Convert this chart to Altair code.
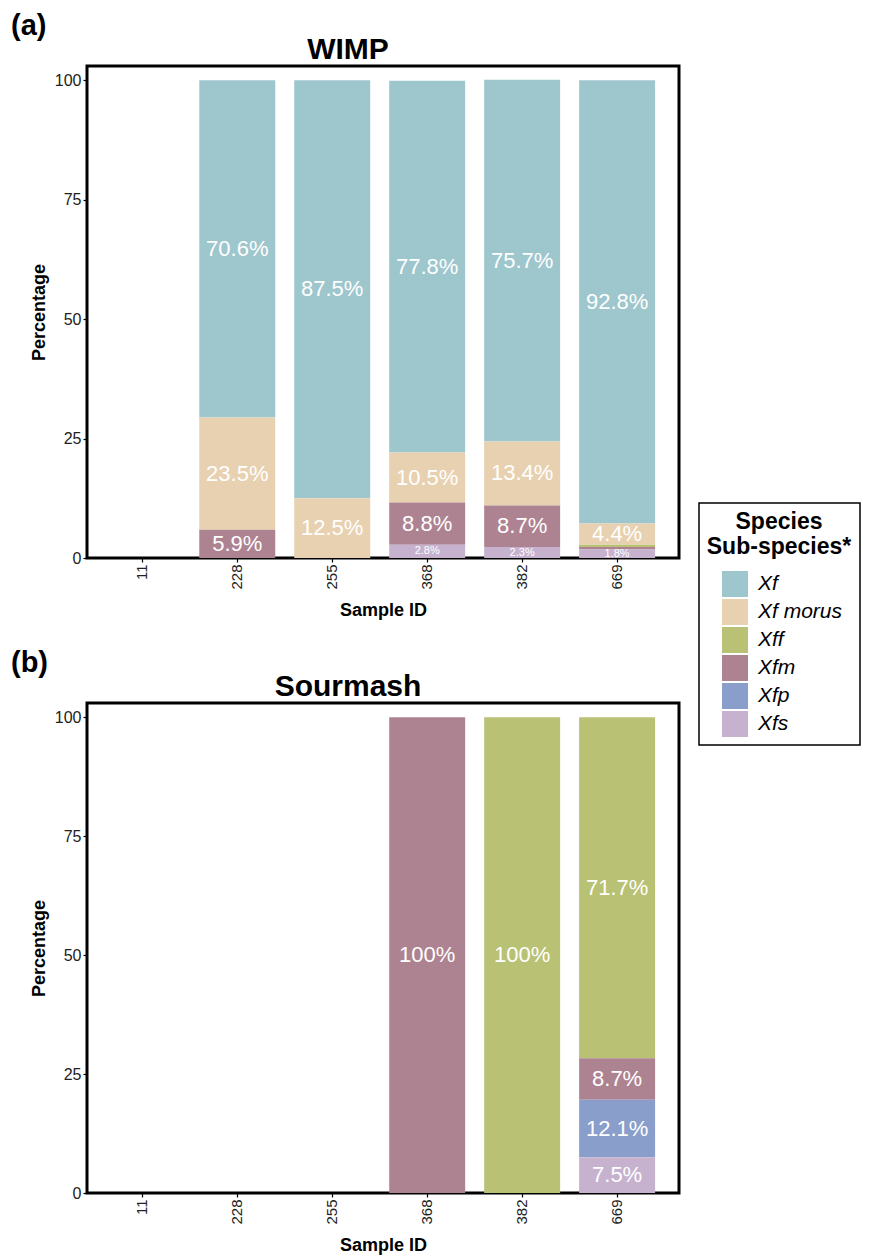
import altair as alt
import pandas as pd

samples = ["11", "228", "255", "368", "382", "669"]
species = ["Xf", "Xf morus", "Xff", "Xfm", "Xfp", "Xfs"]
colors = ["#9EC6CD", "#E8D1B0", "#B9C175", "#AE8391", "#8A9ECB", "#C6B2CF"]

# WIMP percentages per species (by sample)
wimp_xf = [0, 70.6, 87.5, 77.8, 75.7, 92.8]
wimp_xf_morus = [0, 23.5, 12.5, 10.5, 13.4, 4.4]
wimp_xff = [0, 0, 0, 0, 0, 0.5]
wimp_xfm = [0, 5.9, 0, 8.8, 8.7, 0.5]
wimp_xfp = [0, 0, 0, 0, 0, 0]
wimp_xfs = [0, 0, 0, 2.8, 2.3, 1.8]

# Sourmash percentages per species (by sample)
sour_xf = [0, 0, 0, 0, 0, 0]
sour_xf_morus = [0, 0, 0, 0, 0, 0]
sour_xff = [0, 0, 0, 0, 100, 71.7]
sour_xfm = [0, 0, 0, 100, 0, 8.7]
sour_xfp = [0, 0, 0, 0, 0, 12.1]
sour_xfs = [0, 0, 0, 0, 0, 7.5]

y_ticks = [0, 25, 50, 75, 100]


def long_df(series):
    rows = []
    for sp, vals in zip(species, series):
        for s, v in zip(samples, vals):
            if v > 0:
                rows.append({
                    "sample": s,
                    "species": sp,
                    "pct": v,
                    "ord": len(species) - species.index(sp),
                    "label": f"{v:g}%",
                    "fs": 22 if v >= 4 else 11,
                    "show": v >= 1,
                })
    return pd.DataFrame(rows)


wimp_df = long_df([wimp_xf, wimp_xf_morus, wimp_xff, wimp_xfm, wimp_xfp, wimp_xfs])
sour_df = long_df([sour_xf, sour_xf_morus, sour_xff, sour_xfm, sour_xfp, sour_xfs])

FONT = "Liberation Sans"
W = 592


def panel(df, title, tag, h):
    base = alt.Chart(df).transform_stack(
        stack="pct", groupby=["sample"], as_=["y0", "y1"],
        sort=[alt.SortField("ord", order="ascending")],
    )
    xenc = alt.X(
        "sample:N",
        scale=alt.Scale(domain=samples, paddingInner=0.2, paddingOuter=0.217, align=0.42),
        axis=alt.Axis(title="Sample ID", labelAngle=270),
    )
    legend = alt.Legend(
        title=["Species", "Sub-species*"],
        orient="none", legendX=612, legendY=437,
    )
    bars = base.mark_bar().encode(
        x=xenc,
        y=alt.Y(
            "y0:Q",
            scale=alt.Scale(domain=[0, 103], nice=False),
            axis=alt.Axis(title="Percentage", values=y_ticks, grid=False),
        ),
        y2="y1:Q",
        color=alt.Color(
            "species:N",
            scale=alt.Scale(domain=species, range=colors),
            legend=legend,
        ),
    )
    texts = base.transform_filter("datum.show").transform_calculate(
        mid="(datum.y0 + datum.y1) / 2"
    ).mark_text(color="white", font=FONT, baseline="middle").encode(
        x=xenc,
        y=alt.Y("mid:Q"),
        text="label:N",
        size=alt.Size("fs:Q", scale=None, legend=None),
    )
    tag_df = pd.DataFrame({"t": [tag], "ttl": [title]})
    tag_mark = alt.Chart(tag_df).mark_text(
        font=FONT, fontSize=29, fontWeight="bold", align="left", baseline="middle"
    ).encode(x=alt.value(-76), y=alt.value(-40), text="t:N")
    title_mark = alt.Chart(tag_df).mark_text(
        font=FONT, fontSize=30, fontWeight="bold", align="center", baseline="alphabetic"
    ).encode(x=alt.value(261), y=alt.value(-7), text="ttl:N")
    return alt.layer(bars, texts, tag_mark, title_mark).properties(width=W, height=h)


chart = alt.vconcat(
    panel(wimp_df, "WIMP", "(a)", 492),
    panel(sour_df, "Sourmash", "(b)", 490),
    spacing=26,
).configure(
    padding={"left": 1, "top": 2, "right": 0, "bottom": 0},
).configure_view(
    stroke="black", strokeWidth=3,
).configure_axis(
    domain=False, grid=False, tickColor="black", tickSize=4, tickWidth=1.2,
    labelFont=FONT, labelColor="#222222", labelPadding=2,
    titleFont=FONT, titleFontSize=18, titleFontWeight="bold", titleColor="black",
).configure_axisX(
    labelFontSize=15, titlePadding=12,
).configure_axisY(
    labelFontSize=16, titlePadding=6,
).configure_legend(
    titleFont=FONT, titleFontSize=23, titleFontWeight="bold", titleColor="black",
    titleAnchor="middle", titleAlign="center", titleLineHeight=25, titlePadding=12,
    labelFont=FONT, labelFontSize=21, labelFontStyle="italic", labelColor="black",
    symbolType="square", symbolSize=676, symbolStrokeWidth=0, symbolOpacity=1,
    symbolOffset=6,
    strokeColor="black", strokeWidth=1.5, padding=8, rowPadding=2,
    labelOffset=10, fillColor="white",
)

chart.save("out.html", embed_options={"renderer": "svg", "actions": False})
